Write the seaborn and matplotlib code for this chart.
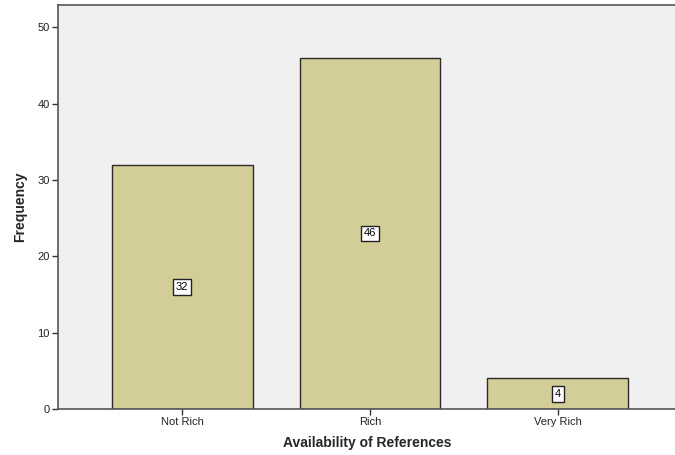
import matplotlib
matplotlib.use("Agg")
import matplotlib.pyplot as plt
import seaborn as sns
import pandas as pd

categories = ["Not Rich", "Rich", "Very Rich"]
frequencies = [32, 46, 4]
y_ticks = [0, 10, 20, 30, 40, 50]

df = pd.DataFrame({"Availability of References": categories, "Frequency": frequencies})

sns.set_style("white")
plt.rcParams['font.family'] = ['Liberation Sans', 'DejaVu Sans']

fig = plt.figure(figsize=(6.75, 4.55), dpi=100)
ax = fig.add_axes([58/675, 1 - 409/455, 1 - 58/675 + 0.002, (409 - 5)/455])
ax.set_facecolor("#f0f0f0")

sns.barplot(data=df, x="Availability of References", y="Frequency", ax=ax,
            color="#d3ce97", saturation=1, width=0.75, edgecolor="#2b2b2b", linewidth=1.0)

ax.set_xlim(-0.66, 2.63)
ax.set_ylim(0, 52.9)
ax.set_yticks(y_ticks)
ax.tick_params(axis='both', length=4, width=1, color="#333333", labelsize=8, pad=2,
               direction='out', labelcolor="#222222")
ax.tick_params(axis='y', left=True)
ax.tick_params(axis='x', bottom=True)

for side in ["left", "bottom", "top"]:
    ax.spines[side].set_visible(True)
    ax.spines[side].set_color("#555555")
    ax.spines[side].set_linewidth(1.2)
ax.spines["right"].set_visible(False)

for i, v in enumerate(frequencies):
    ax.text(i, v / 2, str(v), ha="center", va="center", fontsize=8, color="black",
            bbox=dict(boxstyle="square,pad=0.25", facecolor="white", edgecolor="#222222", linewidth=1))

ax.set_xlabel("Availability of References", fontsize=10, fontweight="bold", labelpad=6)
ax.set_ylabel("Frequency", fontsize=10, fontweight="bold", labelpad=7)

fig.savefig("out.png", dpi=100)
